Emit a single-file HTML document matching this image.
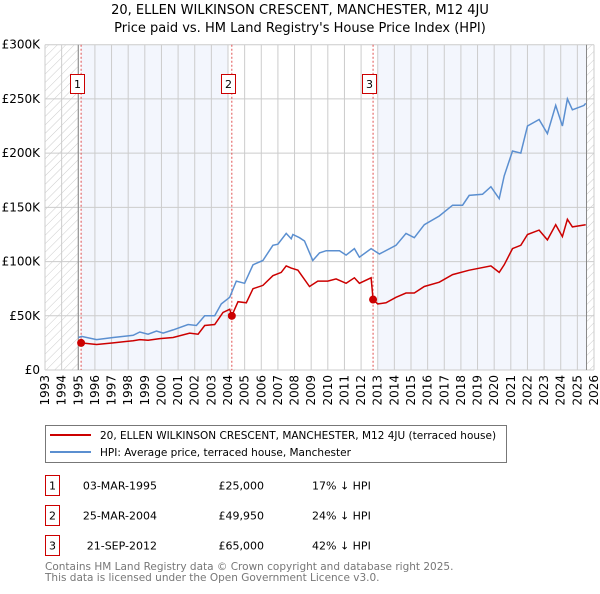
<!DOCTYPE html>
<html><head><meta charset="utf-8"><style>
body{margin:0;background:#fff;width:600px;height:590px;overflow:hidden;font-family:"DejaVu Sans","Liberation Sans",sans-serif}
svg text{font-family:"DejaVu Sans","Liberation Sans",sans-serif}
</style></head><body>
<svg id="chart" width="600" height="590" xmlns="http://www.w3.org/2000/svg">
<defs><pattern id="hatch" width="6" height="6" patternUnits="userSpaceOnUse" patternTransform="rotate(45)"><line x1="0" y1="0" x2="0" y2="6" stroke="#ccc" stroke-width="1"/></pattern></defs>
<text x="300" y="14" text-anchor="middle" font-size="13">20, ELLEN WILKINSON CRESCENT, MANCHESTER, M12 4JU</text>
<text x="300" y="32" text-anchor="middle" font-size="13">Price paid vs. HM Land Registry's House Price Index (HPI)</text>
<g id="bg"></g><g id="grid"></g><g id="marks"></g><g id="axes"></g>
<g>
<rect x="45.5" y="425.5" width="461" height="37" fill="#fff" stroke="#777"/>
<line x1="50" y1="435" x2="91" y2="435" stroke="#cc0000" stroke-width="2"/>
<text x="100" y="439" font-size="10.5">20, ELLEN WILKINSON CRESCENT, MANCHESTER, M12 4JU (terraced house)</text>
<line x1="50" y1="452" x2="91" y2="452" stroke="#5b8fd0" stroke-width="2"/>
<text x="100" y="456" font-size="10.5">HPI: Average price, terraced house, Manchester</text>
</g>
<g id="table" font-size="11"></g>
<text x="45" y="570" font-size="10.5" fill="#777">Contains HM Land Registry data © Crown copyright and database right 2025.</text>
<text x="45" y="581" font-size="10.5" fill="#777">This data is licensed under the Open Government Licence v3.0.</text>
</svg>
<script>
const hpiYears=[1995.0,1995.2,1996.1,1997.1,1998.3,1998.7,1999.2,1999.7,2000.1,2000.7,2001.6,2002.1,2002.6,2003.2,2003.6,2004.1,2004.5,2005.0,2005.5,2006.1,2006.7,2007.0,2007.5,2007.8,2007.9,2008.3,2008.6,2009.1,2009.5,2009.9,2010.7,2011.1,2011.6,2011.9,2012.6,2013.1,2014.1,2014.7,2015.2,2015.8,2016.7,2017.5,2018.1,2018.5,2019.3,2019.8,2020.3,2020.6,2021.1,2021.6,2022.0,2022.7,2023.2,2023.7,2024.1,2024.4,2024.7,2025.4,2025.5];
const hpiValues=[30,31,28,30,32,35,33,36,34,37,42,41,50,50,61,67,82,80,97,101,115,116,126,121,125,122,119,101,108,110,110,106,112,104,112,107,115,126,122,134,142,152,152,161,162,169,158,179,202,200,225,231,218,244,225,250,240,244,246];
const priceYears=[1995.17,1996.1,1997.1,1998.3,1998.7,1999.2,1999.9,2000.7,2001.7,2002.2,2002.6,2003.2,2003.7,2004.1,2004.23,2004.6,2005.1,2005.5,2006.1,2006.7,2007.2,2007.5,2007.8,2008.2,2008.9,2009.4,2010.0,2010.5,2011.1,2011.6,2011.9,2012.6,2012.72,2013.0,2013.5,2014.1,2014.7,2015.2,2015.8,2016.7,2017.5,2018.5,2019.8,2020.3,2020.6,2021.1,2021.6,2022.0,2022.7,2023.2,2023.7,2024.1,2024.4,2024.7,2025.5];
const priceValues=[25,23.5,25,27,28,27.5,29,30,34,33,41,42,53,56,49.95,63,62,75,78,87,90,96,94,92,77,82,82,84,80,85,80,85,65,61,62,67,71,71,77,81,88,92,96,90,97,112,115,125,129,120,134,123,139,132,134];
const saleLabels=["1","2","3"];
const saleYears=[1995.17,2004.23,2012.72];
const saleValues=[25000,49950,65000];
const saleDates=["03-MAR-1995","25-MAR-2004","21-SEP-2012"];
const salePrices=["£25,000","£49,950","£65,000"];
const salePct=["17% ↓ HPI","24% ↓ HPI","42% ↓ HPI"];
const yTicks=[0,50,100,150,200,250,300];
const yTickLabels=["£0","£50K","£100K","£150K","£200K","£250K","£300K"];
const xStart=1993,xEnd=2026;
const L=45,R=594,T=44.7,B=370;
const X=y=>L+(y-xStart)/(xEnd-xStart)*(R-L);
const Y=v=>B-v/300*(B-T);
const NS="http://www.w3.org/2000/svg";
function mk(p,tag,at){const e=document.createElementNS(NS,tag);for(const k in at)e.setAttribute(k,at[k]);p.appendChild(e);return e;}
const bg=document.getElementById('bg'),grid=document.getElementById('grid'),marks=document.getElementById('marks'),axes=document.getElementById('axes');
let r;
r=mk(bg,'rect',{x:L,y:T,width:X(1995)-L,height:B-T,fill:'url(#hatch)'});

r=mk(bg,'rect',{x:X(2025.55),y:T,width:R-X(2025.55),height:B-T,fill:'url(#hatch)'});

r=mk(bg,'rect',{x:X(saleYears[0]),y:T,width:X(2004)-X(saleYears[0]),height:B-T,fill:'#f3f6fd'});

r=mk(bg,'rect',{x:X(2013),y:T,width:X(2025.55)-X(2013),height:B-T,fill:'#f3f6fd'});

for(let y=xStart;y<=xEnd;y++){
 const l=mk(grid,'line',{x1:X(y),x2:X(y),y1:T,y2:B,stroke:'#ccc','stroke-width':1});
 
 const t=mk(axes,'text',{x:0,y:0,'font-size':12,transform:`translate(${X(y)+4},${B+5}) rotate(-90)`,'text-anchor':'end'});
 t.textContent=y;
 
}
yTicks.forEach((v,i)=>{
 const l=mk(grid,'line',{x1:L,x2:R,y1:Y(v),y2:Y(v),stroke:'#ccc','stroke-width':1});
 
 const t=mk(axes,'text',{x:40,y:Y(v)+4,'font-size':12,'text-anchor':'end'});
 t.textContent=yTickLabels[i];
 
});
[1995,2025.55].forEach(y=>{const l=mk(grid,'line',{x1:X(y),x2:X(y),y1:T,y2:B,stroke:'#888','stroke-width':1});
 });
saleYears.forEach((sy,i)=>{
 const l=mk(marks,'line',{x1:X(sy),x2:X(sy),y1:T,y2:B,stroke:'#e05050','stroke-width':1,'stroke-dasharray':'2,2'});
 
});
const hp=mk(marks,'path',{d:hpiYears.map((y,i)=>(i?'L':'M')+X(y).toFixed(1)+','+Y(hpiValues[i]).toFixed(1)).join(''),fill:'none',stroke:'#5b8fd0','stroke-width':1.5});

const pp=mk(marks,'path',{d:priceYears.map((y,i)=>(i?'L':'M')+X(y).toFixed(1)+','+Y(priceValues[i]).toFixed(1)).join(''),fill:'none',stroke:'#cc0000','stroke-width':1.5});

saleYears.forEach((sy,i)=>{
 const c=mk(marks,'circle',{cx:X(sy),cy:Y(saleValues[i]/1000),r:4,fill:'#cc0000'});
 
 const bx=Math.round(X(sy))-10.5;
 const b=mk(marks,'rect',{x:bx,y:74.5,width:14,height:19,fill:'#fff',stroke:'#cc0000'});
 
 const t=mk(marks,'text',{x:bx+7,y:88,'font-size':11,'text-anchor':'middle'});t.textContent=saleLabels[i];
 
});
const tb=document.getElementById('table');
saleLabels.forEach((s,i)=>{
 const y0=475.5+i*30;
 const b=mk(tb,'rect',{x:45.5,y:y0,width:14,height:20,fill:'#fff',stroke:'#cc0000'});
 
 const t1=mk(tb,'text',{x:52.5,y:y0+14,'text-anchor':'middle'});t1.textContent=s;
 
 const t2=mk(tb,'text',{x:157,y:y0+14,'text-anchor':'end'});t2.textContent=saleDates[i];
 
 const t3=mk(tb,'text',{x:264,y:y0+14,'text-anchor':'end'});t3.textContent=salePrices[i];
 
 const t4=mk(tb,'text',{x:312,y:y0+14});t4.textContent=salePct[i];
 
});
</script>
</body></html>
